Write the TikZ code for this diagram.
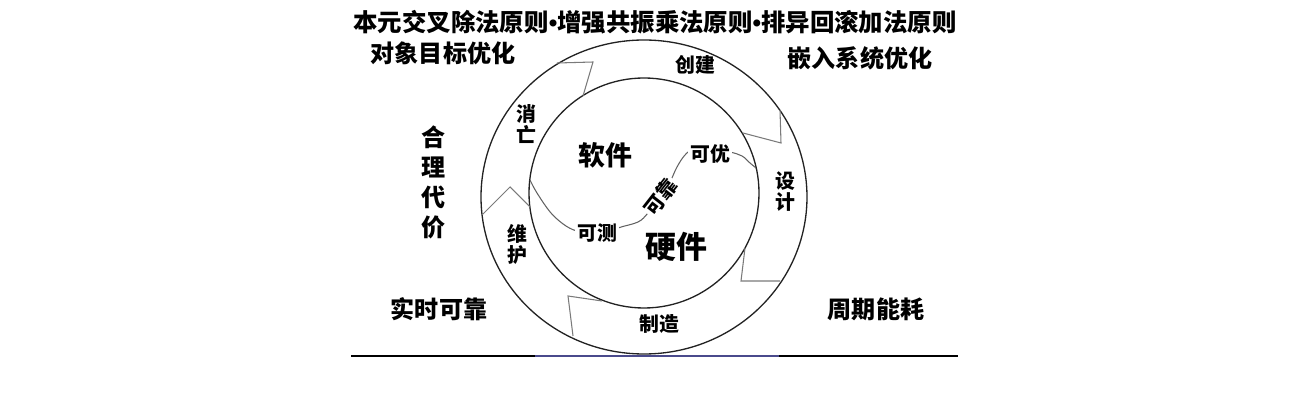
\documentclass[tikz,border=0pt]{standalone}
\usepackage{fontspec}
\setmainfont{Noto Sans CJK SC}
\newfontfamily\dotfont{Liberation Sans}
\definecolor{ringline}{HTML}{222222}
\definecolor{cutline}{HTML}{7A7A7A}
\definecolor{baseline}{HTML}{333333}
\definecolor{baseblue}{HTML}{4A4A8C}
\newcommand{\tdot}{{\dotfont\bfseries•}}
\begin{document}
\begin{tikzpicture}[x=0.02cm,y=-0.02cm,
  lbl/.style={font=\bfseries\fontsize{11.3}{12}\selectfont, inner sep=0.5pt, align=center},
  big/.style={font=\bfseries\fontsize{13.7}{15.6}\selectfont, inner sep=0pt, align=center},
  onwave/.style={lbl, fill=white, inner sep=1pt}]
\useasboundingbox (0,0) rectangle (1302,411);
% rings
\draw[ringline, line width=0.75pt] (644,197) ellipse [x radius=163, y radius=157];
\draw[ringline, line width=0.75pt] (644,193) circle [radius=115];
% arrow cuts in the ring
\draw[cutline, line width=0.6pt] (557,63) -- (593,62) -- (583,96);
\draw[cutline, line width=0.6pt] (780,110) -- (781,143) -- (743,133);
\draw[cutline, line width=0.6pt] (745,248) -- (741,281) -- (780,281);
\draw[cutline, line width=0.6pt] (602,301) -- (568,296) -- (573,336);
\draw[cutline, line width=0.6pt] (482,215) -- (510,187) -- (530,207);
% wave through the middle
\draw[cutline!80!black, line width=0.6pt] plot[smooth, tension=0.6] coordinates {
  (530,180) (537,193) (551,213) (566,226) (580,232) (600,236) (618,228)
  (638,222) (648,213) (661,197) (670,182) (677,167) (685,155) (694,149)
  (710,148) (730,152) (742,156) (750,163) (756,168)};
% texts
\node[big, font=\bfseries\fontsize{13.9}{15.6}\selectfont] (title) at (655,22) {本元交叉除法原则\tdot 增强共振乘法原则\tdot 排异回滚加法原则};
\node[big] (objopt) at (443,53) {对象目标优化};
\node[big] (embopt) at (860,58) {嵌入系统优化};
\node[big] (cost) at (434,182) {合\\[1.5pt]理\\[1.5pt]代\\[1.5pt]价};
\node[big] (rtrel) at (439,309) {实时可靠};
\node[big] (periodpower) at (876,309) {周期能耗};
\node[lbl] (create) at (695,65) {创建};
\node[lbl] (design) at (785,192) {设\\计};
\node[lbl] (make) at (659,324) {制造};
\node[lbl] (maint) at (517,244) {维\\护};
\node[lbl] (demise) at (526,124) {消\\亡};
\node[lbl, font=\bfseries\fontsize{15.3}{17}\selectfont] (soft) at (605,155) {软件};
\node[lbl, font=\bfseries\fontsize{17.6}{19}\selectfont] (hard) at (676,247) {硬件};
\node[onwave] (opt) at (710,154) {可优};
\node[onwave] (test) at (597,233) {可测};
\node[onwave, rotate=52] (rel) at (661,197) {可靠};
% base rule
\draw[baseline, line width=1.2pt] (351,356) -- (958,356);
\draw[baseblue, line width=1.2pt] (535,356) -- (779,356);
\end{tikzpicture}
\end{document}
